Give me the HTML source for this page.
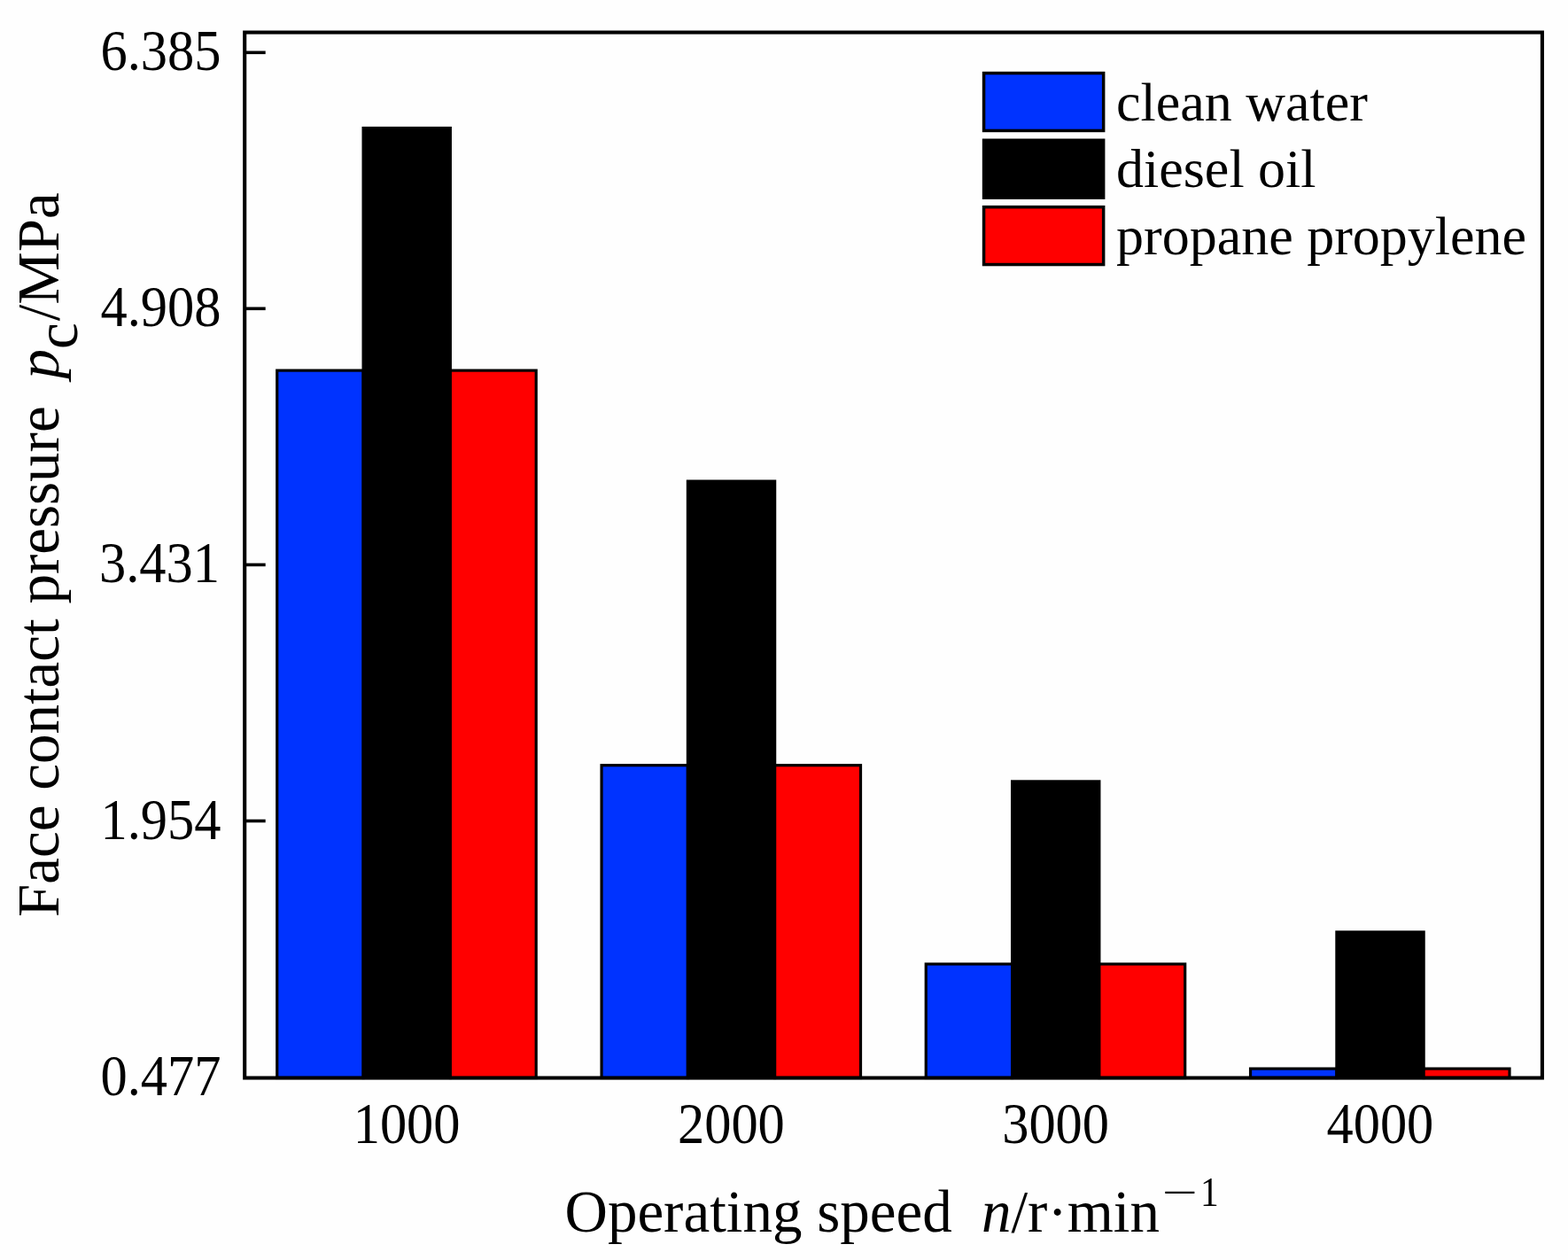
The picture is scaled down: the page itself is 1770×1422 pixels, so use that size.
<!DOCTYPE html>
<html><head><meta charset="utf-8"><title>Face contact pressure chart</title>
<style>
html,body{margin:0;padding:0;background:#fefefe;}
body{width:1770px;height:1422px;overflow:hidden;}
svg{display:block;}
.t{font-family:"Liberation Serif","Times New Roman",serif;font-size:62px;fill:#000;}
</style></head>
<body>
<svg width="1770" height="1422" viewBox="0 0 1770 1422">
<rect x="0" y="0" width="1770" height="1422" fill="#fefefe"/>
<rect x="312.75" y="418.10" width="97.35" height="798.40" fill="#0033ff" stroke="#000" stroke-width="3.2"/>
<rect x="410.10" y="144.50" width="98.25" height="1072.00" fill="#000000" stroke="#000" stroke-width="3.2"/>
<rect x="508.35" y="418.10" width="96.85" height="798.40" fill="#ff0000" stroke="#000" stroke-width="3.2"/>
<rect x="679.05" y="863.70" width="97.35" height="352.80" fill="#0033ff" stroke="#000" stroke-width="3.2"/>
<rect x="776.40" y="543.10" width="98.25" height="673.40" fill="#000000" stroke="#000" stroke-width="3.2"/>
<rect x="874.65" y="863.70" width="96.85" height="352.80" fill="#ff0000" stroke="#000" stroke-width="3.2"/>
<rect x="1045.25" y="1088.00" width="97.35" height="128.50" fill="#0033ff" stroke="#000" stroke-width="3.2"/>
<rect x="1142.60" y="881.90" width="98.25" height="334.60" fill="#000000" stroke="#000" stroke-width="3.2"/>
<rect x="1240.85" y="1088.00" width="96.85" height="128.50" fill="#ff0000" stroke="#000" stroke-width="3.2"/>
<rect x="1411.55" y="1206.10" width="97.35" height="10.40" fill="#0033ff" stroke="#000" stroke-width="3.2"/>
<rect x="1508.90" y="1051.90" width="98.25" height="164.60" fill="#000000" stroke="#000" stroke-width="3.2"/>
<rect x="1607.15" y="1206.10" width="96.85" height="10.40" fill="#ff0000" stroke="#000" stroke-width="3.2"/>
<line x1="276.20" y1="59.30" x2="299.70" y2="59.30" stroke="#000" stroke-width="3.6"/>
<line x1="276.20" y1="348.30" x2="299.70" y2="348.30" stroke="#000" stroke-width="3.6"/>
<line x1="276.20" y1="637.40" x2="299.70" y2="637.40" stroke="#000" stroke-width="3.6"/>
<line x1="276.20" y1="926.50" x2="299.70" y2="926.50" stroke="#000" stroke-width="3.6"/>
<rect x="276.2" y="36.55" width="1464.7" height="1179.95" fill="none" stroke="#000" stroke-width="4.1"/>
<text transform="translate(249.5,78.8) scale(0.975,1.065)" text-anchor="end" class="t">6.385</text>
<text transform="translate(249.5,367.8) scale(0.975,1.065)" text-anchor="end" class="t">4.908</text>
<text transform="translate(248.0,657.4) scale(0.975,1.065)" text-anchor="end" class="t">3.431</text>
<text transform="translate(249.5,946.7) scale(0.975,1.065)" text-anchor="end" class="t">1.954</text>
<text transform="translate(249.5,1236.4) scale(0.975,1.065)" text-anchor="end" class="t">0.477</text>
<text transform="translate(459.1,1289.5) scale(0.975,1.065)" text-anchor="middle" class="t">1000</text>
<text transform="translate(825.4,1289.5) scale(0.975,1.065)" text-anchor="middle" class="t">2000</text>
<text transform="translate(1191.6,1289.5) scale(0.975,1.065)" text-anchor="middle" class="t">3000</text>
<text transform="translate(1557.9,1289.5) scale(0.975,1.065)" text-anchor="middle" class="t">4000</text>
<rect x="1110.55" y="82.55" width="135.1" height="64.9" fill="#0033ff" stroke="#000" stroke-width="3.5"/>
<text x="1260" y="135.8" class="t">clean water</text>
<rect x="1110.55" y="158.25" width="135.1" height="64.9" fill="#000000" stroke="#000" stroke-width="3.5"/>
<text x="1260" y="211.2" class="t">diesel oil</text>
<rect x="1110.55" y="233.65" width="135.1" height="64.9" fill="#ff0000" stroke="#000" stroke-width="3.5"/>
<text x="1260" y="286.6" class="t">propane propylene</text>
<text x="637.5" y="1390" class="t" style="font-size:67px">Operating speed <tspan font-style="italic" dx="16.5">n</tspan>/r·min</text>
<text x="1312" y="1361.5" class="t" style="font-size:46px" transform="translate(1312,1361.5) scale(1.55,1) translate(-1312,-1361.5)">−</text>
<text x="1355" y="1361.5" class="t" style="font-size:46px" transform="translate(1355,1361.5) scale(0.9,1) translate(-1355,-1361.5)">1</text>
<text transform="translate(66,1035) rotate(-90)" class="t" style="font-size:67px">Face contact pressure <tspan font-style="italic" dx="14">p</tspan><tspan dy="20.5" dx="0" style="font-size:67px">c</tspan><tspan dy="-20.5" dx="2">/MPa</tspan></text>
</svg>
</body></html>
